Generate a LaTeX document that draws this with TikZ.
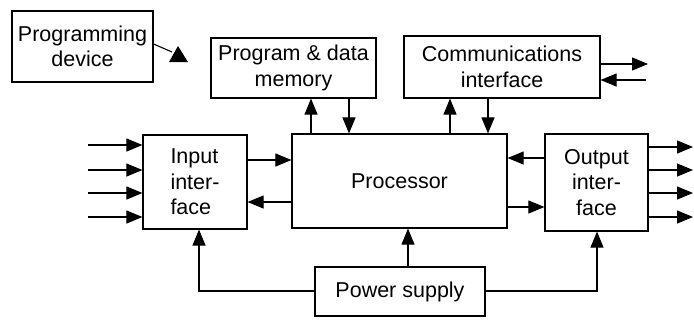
\documentclass[tikz,border=0pt]{standalone}
\usepackage{fontspec}
\setmainfont{Liberation Sans}
\usetikzlibrary{arrows.meta}
\begin{document}
\begin{tikzpicture}[x=1pt,y=-1pt,
  box/.style={draw,line width=1.2pt,inner sep=0pt,font=\fontsize{21.5}{25.5}\selectfont,align=center},
  link/.style={line width=1.1pt},
  arr/.style={link,-{Triangle[length=16pt,width=13pt]}}]
\useasboundingbox (0,0) rectangle (694,325);

% blocks
\node[box,minimum width=141pt,minimum height=71pt] (prog) at (82.5,46.5) {Programming\\device};
\node[box,minimum width=165pt,minimum height=60pt] (mem) at (293.5,68) {Program \& data\\memory};
\node[box,minimum width=196pt,minimum height=62pt] (comm) at (502,67) {Communications\\interface};
\node[box,minimum width=104pt,minimum height=94pt,align=left] (inp) at (195,182) {Input\\inter-\\face};
\node[box,minimum width=215pt,minimum height=94pt] (proc) at (399.5,181) {Processor};
\node[box,minimum width=103pt,minimum height=97pt] (out) at (596.5,182.5) {Output\\inter-\\face};
\node[box,minimum width=170pt,minimum height=49pt] (pow) at (400,291.5) {Power supply};

% programming device link
\coordinate (pd) at (172,52);
\draw[link] (prog.east |- 0,44) -- (pd);
\fill (169,62) -- (178,46) -- (188,62) -- cycle;

% processor <-> memory and communications
\draw[arr] (proc.north -| 311,0) -- (mem.south -| 311,0);
\draw[arr] (mem.south -| 349,0) -- (proc.north -| 349,0);
\draw[arr] (proc.north -| 450,0) -- (comm.south -| 450,0);
\draw[arr] (comm.south -| 488,0) -- (proc.north -| 488,0);

% communications external lines
\coordinate (cout) at (648,64);
\coordinate (cin) at (646,80);
\draw[arr] (comm.east |- cout) -- (cout);
\draw[arr] (cin) -- (comm.east |- cin);

% input and output interfaces <-> processor
\draw[arr] (inp.east |- 0,160) -- (proc.west |- 0,160);
\draw[arr] (proc.west |- 0,202) -- (inp.east |- 0,202);
\draw[arr] (out.west |- 0,158) -- (proc.east |- 0,158);
\draw[arr] (proc.east |- 0,207) -- (out.west |- 0,207);

% external inputs and outputs
\foreach \i/\y in {1/145,2/170,3/193,4/217}{
  \coordinate (in\i) at (88,\y);
  \draw[arr] (in\i) -- (inp.west |- in\i);
}
\foreach \i/\y in {1/147,2/170,3/193,4/217}{
  \coordinate (o\i) at (693,\y);
  \draw[arr] (out.east |- o\i) -- (o\i);
}

% power distribution
\draw[arr] (pow.west |- 0,291) -| (inp.south -| 199,0);
\draw[arr] (pow.east |- 0,291) -| (out.south -| 597,0);
\draw[arr] (pow.north -| 408,0) -- (proc.south -| 408,0);
\end{tikzpicture}
\end{document}
